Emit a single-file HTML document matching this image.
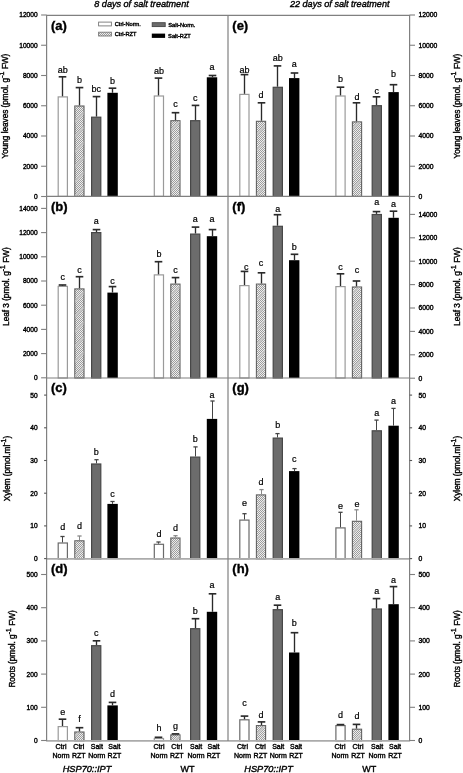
<!DOCTYPE html>
<html><head><meta charset="utf-8"><style>
html,body{margin:0;padding:0;background:#fff;}
body{width:463px;height:773px;overflow:hidden;}
svg{display:block;will-change:transform;font-family:"Liberation Sans",sans-serif;fill:#000;}
text{fill:#000;stroke:#000;stroke-width:0.38px;}
text.L{stroke-width:0.2px;}
</style></head><body>
<svg width="463" height="773" viewBox="0 0 463 773">
<defs><pattern id="chk" width="2" height="2" patternUnits="userSpaceOnUse"><rect width="2" height="2" fill="#eeeeee"/><rect width="1" height="1" fill="#9c9c9c"/><rect x="1" y="1" width="1" height="1" fill="#9c9c9c"/></pattern><pattern id="diag" width="10.6" height="10.6" patternUnits="userSpaceOnUse" patternTransform="rotate(-45)"><rect width="10.6" height="2.2" fill="#c4c4c4"/></pattern></defs>
<rect width="463" height="773" fill="#fff"/>
<text x="141.5" y="6.8" font-size="9.1" font-style="italic" text-anchor="middle">8 days of salt treatment</text>
<text x="339.7" y="6.8" font-size="9.1" font-style="italic" text-anchor="middle">22 days of salt treatment</text>
<rect x="58.20" y="96.90" width="9.20" height="99.50" fill="#fff" stroke="#9a9a9a" stroke-width="1.2"/>
<line x1="62.50" y1="76.80" x2="62.50" y2="96.30" stroke="#2a2a2a" stroke-width="1.35"/>
<line x1="58.70" y1="76.80" x2="66.30" y2="76.80" stroke="#2a2a2a" stroke-width="1.6500000000000001"/>
<text class="L" x="62.80" y="72.60" font-size="9" text-anchor="middle">ab</text>
<rect x="74.80" y="106.00" width="9.20" height="90.40" fill="url(#chk)" stroke="#606060" stroke-width="1.1"/>
<rect x="75.30" y="106.50" width="8.20" height="89.90" fill="url(#diag)"/>
<line x1="79.50" y1="87.60" x2="79.50" y2="105.40" stroke="#2a2a2a" stroke-width="1.35"/>
<line x1="75.70" y1="87.60" x2="83.30" y2="87.60" stroke="#2a2a2a" stroke-width="1.6500000000000001"/>
<text class="L" x="79.40" y="83.30" font-size="9" text-anchor="middle">b</text>
<rect x="91.60" y="117.20" width="9.20" height="79.20" fill="#6c6c6c" stroke="#474747" stroke-width="1.2"/>
<line x1="96.50" y1="96.60" x2="96.50" y2="116.60" stroke="#2a2a2a" stroke-width="1.35"/>
<line x1="92.70" y1="96.60" x2="100.30" y2="96.60" stroke="#2a2a2a" stroke-width="1.6500000000000001"/>
<text class="L" x="96.20" y="92.30" font-size="9" text-anchor="middle">bc</text>
<rect x="107.40" y="92.80" width="10.40" height="103.60" fill="#000"/>
<line x1="112.50" y1="88.20" x2="112.50" y2="92.80" stroke="#2a2a2a" stroke-width="1.35"/>
<line x1="108.70" y1="88.20" x2="116.30" y2="88.20" stroke="#2a2a2a" stroke-width="1.6500000000000001"/>
<text class="L" x="112.60" y="83.90" font-size="9" text-anchor="middle">b</text>
<rect x="154.30" y="96.00" width="9.20" height="100.40" fill="#fff" stroke="#9a9a9a" stroke-width="1.2"/>
<line x1="158.50" y1="78.10" x2="158.50" y2="95.40" stroke="#2a2a2a" stroke-width="1.35"/>
<line x1="154.70" y1="78.10" x2="162.30" y2="78.10" stroke="#2a2a2a" stroke-width="1.6500000000000001"/>
<text class="L" x="158.90" y="74.20" font-size="9" text-anchor="middle">ab</text>
<rect x="170.80" y="120.70" width="9.20" height="75.70" fill="url(#chk)" stroke="#606060" stroke-width="1.1"/>
<rect x="171.30" y="121.20" width="8.20" height="75.20" fill="url(#diag)"/>
<line x1="175.50" y1="112.70" x2="175.50" y2="120.10" stroke="#2a2a2a" stroke-width="1.35"/>
<line x1="171.70" y1="112.70" x2="179.30" y2="112.70" stroke="#2a2a2a" stroke-width="1.6500000000000001"/>
<text class="L" x="175.40" y="107.00" font-size="9" text-anchor="middle">c</text>
<rect x="190.60" y="120.70" width="9.20" height="75.70" fill="#6c6c6c" stroke="#474747" stroke-width="1.2"/>
<line x1="195.50" y1="105.40" x2="195.50" y2="120.10" stroke="#2a2a2a" stroke-width="1.35"/>
<line x1="191.70" y1="105.40" x2="199.30" y2="105.40" stroke="#2a2a2a" stroke-width="1.6500000000000001"/>
<text class="L" x="195.20" y="100.90" font-size="9" text-anchor="middle">c</text>
<rect x="206.80" y="77.30" width="10.40" height="119.10" fill="#000"/>
<line x1="212.50" y1="75.50" x2="212.50" y2="77.30" stroke="#2a2a2a" stroke-width="1.35"/>
<line x1="208.70" y1="75.50" x2="216.30" y2="75.50" stroke="#2a2a2a" stroke-width="1.6500000000000001"/>
<text class="L" x="212.00" y="70.40" font-size="9" text-anchor="middle">a</text>
<text x="50.90" y="29.50" font-size="13" font-weight="bold">(a)</text>
<rect x="58.20" y="286.40" width="9.20" height="91.60" fill="#fff" stroke="#9a9a9a" stroke-width="1.2"/>
<line x1="62.50" y1="285.00" x2="62.50" y2="285.80" stroke="#2a2a2a" stroke-width="1.35"/>
<line x1="58.70" y1="285.00" x2="66.30" y2="285.00" stroke="#2a2a2a" stroke-width="1.6500000000000001"/>
<text class="L" x="62.80" y="280.00" font-size="9" text-anchor="middle">c</text>
<rect x="74.80" y="288.90" width="9.20" height="89.10" fill="url(#chk)" stroke="#606060" stroke-width="1.1"/>
<rect x="75.30" y="289.40" width="8.20" height="88.60" fill="url(#diag)"/>
<line x1="79.50" y1="276.70" x2="79.50" y2="288.30" stroke="#2a2a2a" stroke-width="1.35"/>
<line x1="75.70" y1="276.70" x2="83.30" y2="276.70" stroke="#2a2a2a" stroke-width="1.6500000000000001"/>
<text class="L" x="79.40" y="272.80" font-size="9" text-anchor="middle">c</text>
<rect x="91.60" y="232.60" width="9.20" height="145.40" fill="#6c6c6c" stroke="#474747" stroke-width="1.2"/>
<line x1="96.50" y1="229.60" x2="96.50" y2="232.00" stroke="#2a2a2a" stroke-width="1.35"/>
<line x1="92.70" y1="229.60" x2="100.30" y2="229.60" stroke="#2a2a2a" stroke-width="1.6500000000000001"/>
<text class="L" x="96.20" y="224.20" font-size="9" text-anchor="middle">a</text>
<rect x="107.40" y="292.60" width="10.40" height="85.40" fill="#000"/>
<line x1="112.50" y1="286.60" x2="112.50" y2="292.60" stroke="#2a2a2a" stroke-width="1.35"/>
<line x1="108.70" y1="286.60" x2="116.30" y2="286.60" stroke="#2a2a2a" stroke-width="1.6500000000000001"/>
<text class="L" x="112.60" y="283.50" font-size="9" text-anchor="middle">c</text>
<rect x="154.30" y="274.90" width="9.20" height="103.10" fill="#fff" stroke="#9a9a9a" stroke-width="1.2"/>
<line x1="158.50" y1="261.70" x2="158.50" y2="274.30" stroke="#2a2a2a" stroke-width="1.35"/>
<line x1="154.70" y1="261.70" x2="162.30" y2="261.70" stroke="#2a2a2a" stroke-width="1.6500000000000001"/>
<text class="L" x="158.90" y="256.80" font-size="9" text-anchor="middle">b</text>
<rect x="170.80" y="284.10" width="9.20" height="93.90" fill="url(#chk)" stroke="#606060" stroke-width="1.1"/>
<rect x="171.30" y="284.60" width="8.20" height="93.40" fill="url(#diag)"/>
<line x1="175.50" y1="277.60" x2="175.50" y2="283.50" stroke="#2a2a2a" stroke-width="1.35"/>
<line x1="171.70" y1="277.60" x2="179.30" y2="277.60" stroke="#2a2a2a" stroke-width="1.6500000000000001"/>
<text class="L" x="175.40" y="273.20" font-size="9" text-anchor="middle">c</text>
<rect x="190.60" y="234.10" width="9.20" height="143.90" fill="#6c6c6c" stroke="#474747" stroke-width="1.2"/>
<line x1="195.50" y1="227.10" x2="195.50" y2="233.50" stroke="#2a2a2a" stroke-width="1.35"/>
<line x1="191.70" y1="227.10" x2="199.30" y2="227.10" stroke="#2a2a2a" stroke-width="1.6500000000000001"/>
<text class="L" x="195.20" y="221.90" font-size="9" text-anchor="middle">a</text>
<rect x="206.80" y="236.20" width="10.40" height="141.80" fill="#000"/>
<line x1="212.50" y1="229.60" x2="212.50" y2="236.20" stroke="#2a2a2a" stroke-width="1.35"/>
<line x1="208.70" y1="229.60" x2="216.30" y2="229.60" stroke="#2a2a2a" stroke-width="1.6500000000000001"/>
<text class="L" x="212.00" y="221.90" font-size="9" text-anchor="middle">a</text>
<text x="50.90" y="210.60" font-size="13" font-weight="bold">(b)</text>
<rect x="58.20" y="543.00" width="9.20" height="15.90" fill="#fff" stroke="#6a6a6a" stroke-width="1.2"/>
<line x1="62.50" y1="536.50" x2="62.50" y2="542.40" stroke="#444" stroke-width="1.0"/>
<line x1="60.40" y1="536.50" x2="64.60" y2="536.50" stroke="#444" stroke-width="1.3"/>
<text class="L" x="62.80" y="530.10" font-size="9" text-anchor="middle">d</text>
<rect x="74.80" y="540.80" width="9.20" height="18.10" fill="url(#chk)" stroke="#606060" stroke-width="1.1"/>
<rect x="75.30" y="541.30" width="8.20" height="17.60" fill="url(#diag)"/>
<line x1="79.50" y1="536.00" x2="79.50" y2="540.20" stroke="#888" stroke-width="1.0"/>
<line x1="77.40" y1="536.00" x2="81.60" y2="536.00" stroke="#888" stroke-width="1.3"/>
<text class="L" x="79.40" y="529.10" font-size="9" text-anchor="middle">d</text>
<rect x="91.60" y="464.00" width="9.20" height="94.90" fill="#6c6c6c" stroke="#474747" stroke-width="1.2"/>
<line x1="96.50" y1="459.70" x2="96.50" y2="463.40" stroke="#444" stroke-width="1.0"/>
<line x1="94.40" y1="459.70" x2="98.60" y2="459.70" stroke="#444" stroke-width="1.3"/>
<text class="L" x="96.20" y="454.90" font-size="9" text-anchor="middle">b</text>
<rect x="107.40" y="503.90" width="10.40" height="55.00" fill="#000"/>
<line x1="112.50" y1="501.50" x2="112.50" y2="503.90" stroke="#444" stroke-width="1.0"/>
<line x1="110.40" y1="501.50" x2="114.60" y2="501.50" stroke="#444" stroke-width="1.3"/>
<text class="L" x="112.60" y="496.50" font-size="9" text-anchor="middle">c</text>
<rect x="154.30" y="544.30" width="9.20" height="14.60" fill="#fff" stroke="#6a6a6a" stroke-width="1.2"/>
<line x1="158.50" y1="542.00" x2="158.50" y2="543.70" stroke="#444" stroke-width="1.0"/>
<line x1="156.40" y1="542.00" x2="160.60" y2="542.00" stroke="#444" stroke-width="1.3"/>
<text class="L" x="158.90" y="537.40" font-size="9" text-anchor="middle">d</text>
<rect x="170.80" y="538.00" width="9.20" height="20.90" fill="url(#chk)" stroke="#606060" stroke-width="1.1"/>
<rect x="171.30" y="538.50" width="8.20" height="20.40" fill="url(#diag)"/>
<line x1="175.50" y1="535.70" x2="175.50" y2="537.40" stroke="#888" stroke-width="1.0"/>
<line x1="173.40" y1="535.70" x2="177.60" y2="535.70" stroke="#888" stroke-width="1.3"/>
<text class="L" x="175.40" y="531.10" font-size="9" text-anchor="middle">d</text>
<rect x="190.60" y="457.10" width="9.20" height="101.80" fill="#6c6c6c" stroke="#474747" stroke-width="1.2"/>
<line x1="195.50" y1="446.90" x2="195.50" y2="456.50" stroke="#444" stroke-width="1.0"/>
<line x1="193.40" y1="446.90" x2="197.60" y2="446.90" stroke="#444" stroke-width="1.3"/>
<text class="L" x="195.20" y="441.80" font-size="9" text-anchor="middle">b</text>
<rect x="206.80" y="418.90" width="10.40" height="140.00" fill="#000"/>
<line x1="212.50" y1="401.00" x2="212.50" y2="418.90" stroke="#444" stroke-width="1.0"/>
<line x1="210.40" y1="401.00" x2="214.60" y2="401.00" stroke="#444" stroke-width="1.3"/>
<text class="L" x="212.00" y="397.50" font-size="9" text-anchor="middle">a</text>
<text x="50.90" y="392.20" font-size="13" font-weight="bold">(c)</text>
<rect x="58.20" y="726.60" width="9.20" height="14.30" fill="#fff" stroke="#9a9a9a" stroke-width="1.2"/>
<line x1="62.50" y1="719.20" x2="62.50" y2="726.00" stroke="#2a2a2a" stroke-width="1.35"/>
<line x1="58.70" y1="719.20" x2="66.30" y2="719.20" stroke="#2a2a2a" stroke-width="1.6500000000000001"/>
<text class="L" x="62.80" y="715.10" font-size="9" text-anchor="middle">e</text>
<rect x="74.80" y="732.00" width="9.20" height="8.90" fill="url(#chk)" stroke="#606060" stroke-width="1.1"/>
<rect x="75.30" y="732.50" width="8.20" height="8.40" fill="url(#diag)"/>
<line x1="79.50" y1="727.70" x2="79.50" y2="731.40" stroke="#2a2a2a" stroke-width="1.35"/>
<line x1="75.70" y1="727.70" x2="83.30" y2="727.70" stroke="#2a2a2a" stroke-width="1.6500000000000001"/>
<text class="L" x="79.40" y="721.50" font-size="9" text-anchor="middle">f</text>
<rect x="91.60" y="645.70" width="9.20" height="95.20" fill="#6c6c6c" stroke="#474747" stroke-width="1.2"/>
<line x1="96.50" y1="640.80" x2="96.50" y2="645.10" stroke="#2a2a2a" stroke-width="1.35"/>
<line x1="92.70" y1="640.80" x2="100.30" y2="640.80" stroke="#2a2a2a" stroke-width="1.6500000000000001"/>
<text class="L" x="96.20" y="636.00" font-size="9" text-anchor="middle">c</text>
<rect x="107.40" y="705.40" width="10.40" height="35.50" fill="#000"/>
<line x1="112.50" y1="702.40" x2="112.50" y2="705.40" stroke="#2a2a2a" stroke-width="1.35"/>
<line x1="108.70" y1="702.40" x2="116.30" y2="702.40" stroke="#2a2a2a" stroke-width="1.6500000000000001"/>
<text class="L" x="112.60" y="696.60" font-size="9" text-anchor="middle">d</text>
<rect x="154.30" y="738.50" width="9.20" height="2.40" fill="#fff" stroke="#9a9a9a" stroke-width="1.2"/>
<line x1="154.70" y1="737.30" x2="162.30" y2="737.30" stroke="#2a2a2a" stroke-width="1.6500000000000001"/>
<text class="L" x="158.90" y="731.30" font-size="9" text-anchor="middle">h</text>
<rect x="170.80" y="734.90" width="9.20" height="6.00" fill="url(#chk)" stroke="#606060" stroke-width="1.1"/>
<rect x="171.30" y="735.40" width="8.20" height="5.50" fill="url(#diag)"/>
<line x1="171.70" y1="733.90" x2="179.30" y2="733.90" stroke="#2a2a2a" stroke-width="1.6500000000000001"/>
<text class="L" x="175.40" y="729.30" font-size="9" text-anchor="middle">g</text>
<rect x="190.60" y="628.70" width="9.20" height="112.20" fill="#6c6c6c" stroke="#474747" stroke-width="1.2"/>
<line x1="195.50" y1="618.70" x2="195.50" y2="628.10" stroke="#2a2a2a" stroke-width="1.35"/>
<line x1="191.70" y1="618.70" x2="199.30" y2="618.70" stroke="#2a2a2a" stroke-width="1.6500000000000001"/>
<text class="L" x="195.20" y="613.70" font-size="9" text-anchor="middle">b</text>
<rect x="206.80" y="611.80" width="10.40" height="129.10" fill="#000"/>
<line x1="212.50" y1="593.80" x2="212.50" y2="611.80" stroke="#2a2a2a" stroke-width="1.35"/>
<line x1="208.70" y1="593.80" x2="216.30" y2="593.80" stroke="#2a2a2a" stroke-width="1.6500000000000001"/>
<text class="L" x="212.00" y="588.30" font-size="9" text-anchor="middle">a</text>
<text x="50.90" y="573.10" font-size="13" font-weight="bold">(d)</text>
<rect x="239.80" y="94.40" width="9.20" height="102.00" fill="#fff" stroke="#9a9a9a" stroke-width="1.2"/>
<line x1="244.50" y1="74.60" x2="244.50" y2="93.80" stroke="#2a2a2a" stroke-width="1.35"/>
<line x1="240.70" y1="74.60" x2="248.30" y2="74.60" stroke="#2a2a2a" stroke-width="1.6500000000000001"/>
<text class="L" x="244.40" y="73.00" font-size="9" text-anchor="middle">ab</text>
<rect x="256.40" y="121.30" width="9.20" height="75.10" fill="url(#chk)" stroke="#606060" stroke-width="1.1"/>
<rect x="256.90" y="121.80" width="8.20" height="74.60" fill="url(#diag)"/>
<line x1="261.50" y1="102.80" x2="261.50" y2="120.70" stroke="#2a2a2a" stroke-width="1.35"/>
<line x1="257.70" y1="102.80" x2="265.30" y2="102.80" stroke="#2a2a2a" stroke-width="1.6500000000000001"/>
<text class="L" x="261.00" y="97.90" font-size="9" text-anchor="middle">d</text>
<rect x="273.20" y="87.30" width="9.20" height="109.10" fill="#6c6c6c" stroke="#474747" stroke-width="1.2"/>
<line x1="277.50" y1="65.90" x2="277.50" y2="86.70" stroke="#2a2a2a" stroke-width="1.35"/>
<line x1="273.70" y1="65.90" x2="281.30" y2="65.90" stroke="#2a2a2a" stroke-width="1.6500000000000001"/>
<text class="L" x="277.80" y="61.00" font-size="9" text-anchor="middle">ab</text>
<rect x="289.00" y="78.10" width="10.40" height="118.30" fill="#000"/>
<line x1="294.50" y1="73.00" x2="294.50" y2="78.10" stroke="#2a2a2a" stroke-width="1.35"/>
<line x1="290.70" y1="73.00" x2="298.30" y2="73.00" stroke="#2a2a2a" stroke-width="1.6500000000000001"/>
<text class="L" x="294.20" y="66.60" font-size="9" text-anchor="middle">a</text>
<rect x="335.90" y="96.00" width="9.20" height="100.40" fill="#fff" stroke="#9a9a9a" stroke-width="1.2"/>
<line x1="340.50" y1="87.20" x2="340.50" y2="95.40" stroke="#2a2a2a" stroke-width="1.35"/>
<line x1="336.70" y1="87.20" x2="344.30" y2="87.20" stroke="#2a2a2a" stroke-width="1.6500000000000001"/>
<text class="L" x="340.50" y="81.80" font-size="9" text-anchor="middle">b</text>
<rect x="352.40" y="121.90" width="9.20" height="74.50" fill="url(#chk)" stroke="#606060" stroke-width="1.1"/>
<rect x="352.90" y="122.40" width="8.20" height="74.00" fill="url(#diag)"/>
<line x1="356.50" y1="102.80" x2="356.50" y2="121.30" stroke="#2a2a2a" stroke-width="1.35"/>
<line x1="352.70" y1="102.80" x2="360.30" y2="102.80" stroke="#2a2a2a" stroke-width="1.6500000000000001"/>
<text class="L" x="357.00" y="100.30" font-size="9" text-anchor="middle">d</text>
<rect x="372.20" y="105.70" width="9.20" height="90.70" fill="#6c6c6c" stroke="#474747" stroke-width="1.2"/>
<line x1="376.50" y1="96.80" x2="376.50" y2="105.10" stroke="#2a2a2a" stroke-width="1.35"/>
<line x1="372.70" y1="96.80" x2="380.30" y2="96.80" stroke="#2a2a2a" stroke-width="1.6500000000000001"/>
<text class="L" x="376.80" y="93.50" font-size="9" text-anchor="middle">c</text>
<rect x="388.40" y="92.10" width="10.40" height="104.30" fill="#000"/>
<line x1="393.50" y1="84.70" x2="393.50" y2="92.10" stroke="#2a2a2a" stroke-width="1.35"/>
<line x1="389.70" y1="84.70" x2="397.30" y2="84.70" stroke="#2a2a2a" stroke-width="1.6500000000000001"/>
<text class="L" x="393.60" y="76.90" font-size="9" text-anchor="middle">b</text>
<text x="232.30" y="29.50" font-size="13" font-weight="bold">(e)</text>
<rect x="239.80" y="285.60" width="9.20" height="92.40" fill="#fff" stroke="#9a9a9a" stroke-width="1.2"/>
<line x1="244.50" y1="271.40" x2="244.50" y2="285.00" stroke="#2a2a2a" stroke-width="1.35"/>
<line x1="240.70" y1="271.40" x2="248.30" y2="271.40" stroke="#2a2a2a" stroke-width="1.6500000000000001"/>
<text class="L" x="246.20" y="269.50" font-size="9" text-anchor="middle">c</text>
<rect x="256.40" y="284.10" width="9.20" height="93.90" fill="url(#chk)" stroke="#606060" stroke-width="1.1"/>
<rect x="256.90" y="284.60" width="8.20" height="93.40" fill="url(#diag)"/>
<line x1="261.50" y1="272.80" x2="261.50" y2="283.50" stroke="#2a2a2a" stroke-width="1.35"/>
<line x1="257.70" y1="272.80" x2="265.30" y2="272.80" stroke="#2a2a2a" stroke-width="1.6500000000000001"/>
<text class="L" x="261.00" y="265.60" font-size="9" text-anchor="middle">c</text>
<rect x="273.20" y="226.30" width="9.20" height="151.70" fill="#6c6c6c" stroke="#474747" stroke-width="1.2"/>
<line x1="277.50" y1="214.70" x2="277.50" y2="225.70" stroke="#2a2a2a" stroke-width="1.35"/>
<line x1="273.70" y1="214.70" x2="281.30" y2="214.70" stroke="#2a2a2a" stroke-width="1.6500000000000001"/>
<text class="L" x="277.80" y="212.10" font-size="9" text-anchor="middle">a</text>
<rect x="289.00" y="260.20" width="10.40" height="117.80" fill="#000"/>
<line x1="294.50" y1="254.30" x2="294.50" y2="260.20" stroke="#2a2a2a" stroke-width="1.35"/>
<line x1="290.70" y1="254.30" x2="298.30" y2="254.30" stroke="#2a2a2a" stroke-width="1.6500000000000001"/>
<text class="L" x="294.20" y="249.50" font-size="9" text-anchor="middle">b</text>
<rect x="335.90" y="286.60" width="9.20" height="91.40" fill="#fff" stroke="#9a9a9a" stroke-width="1.2"/>
<line x1="340.50" y1="273.80" x2="340.50" y2="286.00" stroke="#2a2a2a" stroke-width="1.35"/>
<line x1="336.70" y1="273.80" x2="344.30" y2="273.80" stroke="#2a2a2a" stroke-width="1.6500000000000001"/>
<text class="L" x="340.50" y="269.50" font-size="9" text-anchor="middle">c</text>
<rect x="352.40" y="287.00" width="9.20" height="91.00" fill="url(#chk)" stroke="#606060" stroke-width="1.1"/>
<rect x="352.90" y="287.50" width="8.20" height="90.50" fill="url(#diag)"/>
<line x1="356.50" y1="281.00" x2="356.50" y2="286.40" stroke="#2a2a2a" stroke-width="1.35"/>
<line x1="352.70" y1="281.00" x2="360.30" y2="281.00" stroke="#2a2a2a" stroke-width="1.6500000000000001"/>
<text class="L" x="357.00" y="273.40" font-size="9" text-anchor="middle">c</text>
<rect x="372.20" y="214.50" width="9.20" height="163.50" fill="#6c6c6c" stroke="#474747" stroke-width="1.2"/>
<line x1="376.50" y1="211.60" x2="376.50" y2="213.90" stroke="#2a2a2a" stroke-width="1.35"/>
<line x1="372.70" y1="211.60" x2="380.30" y2="211.60" stroke="#2a2a2a" stroke-width="1.6500000000000001"/>
<text class="L" x="376.80" y="205.30" font-size="9" text-anchor="middle">a</text>
<rect x="388.40" y="217.80" width="10.40" height="160.20" fill="#000"/>
<line x1="393.50" y1="211.20" x2="393.50" y2="217.80" stroke="#2a2a2a" stroke-width="1.35"/>
<line x1="389.70" y1="211.20" x2="397.30" y2="211.20" stroke="#2a2a2a" stroke-width="1.6500000000000001"/>
<text class="L" x="393.60" y="206.70" font-size="9" text-anchor="middle">a</text>
<text x="232.30" y="210.60" font-size="13" font-weight="bold">(f)</text>
<rect x="239.80" y="520.10" width="9.20" height="38.80" fill="#fff" stroke="#6a6a6a" stroke-width="1.2"/>
<line x1="244.50" y1="513.70" x2="244.50" y2="519.50" stroke="#444" stroke-width="1.0"/>
<line x1="242.40" y1="513.70" x2="246.60" y2="513.70" stroke="#444" stroke-width="1.3"/>
<text class="L" x="244.40" y="506.10" font-size="9" text-anchor="middle">e</text>
<rect x="256.40" y="494.90" width="9.20" height="64.00" fill="url(#chk)" stroke="#606060" stroke-width="1.1"/>
<rect x="256.90" y="495.40" width="8.20" height="63.50" fill="url(#diag)"/>
<line x1="261.50" y1="489.60" x2="261.50" y2="494.30" stroke="#888" stroke-width="1.0"/>
<line x1="259.40" y1="489.60" x2="263.60" y2="489.60" stroke="#888" stroke-width="1.3"/>
<text class="L" x="261.00" y="485.10" font-size="9" text-anchor="middle">d</text>
<rect x="273.20" y="438.10" width="9.20" height="120.80" fill="#6c6c6c" stroke="#474747" stroke-width="1.2"/>
<line x1="277.50" y1="433.60" x2="277.50" y2="437.50" stroke="#444" stroke-width="1.0"/>
<line x1="275.40" y1="433.60" x2="279.60" y2="433.60" stroke="#444" stroke-width="1.3"/>
<text class="L" x="277.80" y="427.80" font-size="9" text-anchor="middle">b</text>
<rect x="289.00" y="471.10" width="10.40" height="87.80" fill="#000"/>
<line x1="294.50" y1="468.60" x2="294.50" y2="471.10" stroke="#444" stroke-width="1.0"/>
<line x1="292.40" y1="468.60" x2="296.60" y2="468.60" stroke="#444" stroke-width="1.3"/>
<text class="L" x="294.20" y="462.40" font-size="9" text-anchor="middle">c</text>
<rect x="335.90" y="527.90" width="9.20" height="31.00" fill="#fff" stroke="#6a6a6a" stroke-width="1.2"/>
<line x1="340.50" y1="512.30" x2="340.50" y2="527.30" stroke="#444" stroke-width="1.0"/>
<line x1="338.40" y1="512.30" x2="342.60" y2="512.30" stroke="#444" stroke-width="1.3"/>
<text class="L" x="340.50" y="508.50" font-size="9" text-anchor="middle">e</text>
<rect x="352.40" y="521.30" width="9.20" height="37.60" fill="url(#chk)" stroke="#606060" stroke-width="1.1"/>
<rect x="352.90" y="521.80" width="8.20" height="37.10" fill="url(#diag)"/>
<line x1="356.50" y1="509.80" x2="356.50" y2="520.70" stroke="#888" stroke-width="1.0"/>
<line x1="354.40" y1="509.80" x2="358.60" y2="509.80" stroke="#888" stroke-width="1.3"/>
<text class="L" x="357.00" y="506.50" font-size="9" text-anchor="middle">e</text>
<rect x="372.20" y="430.80" width="9.20" height="128.10" fill="#6c6c6c" stroke="#474747" stroke-width="1.2"/>
<line x1="376.50" y1="420.10" x2="376.50" y2="430.20" stroke="#444" stroke-width="1.0"/>
<line x1="374.40" y1="420.10" x2="378.60" y2="420.10" stroke="#444" stroke-width="1.3"/>
<text class="L" x="376.80" y="416.30" font-size="9" text-anchor="middle">a</text>
<rect x="388.40" y="425.70" width="10.40" height="133.20" fill="#000"/>
<line x1="393.50" y1="408.40" x2="393.50" y2="425.70" stroke="#444" stroke-width="1.0"/>
<line x1="391.40" y1="408.40" x2="395.60" y2="408.40" stroke="#444" stroke-width="1.3"/>
<text class="L" x="393.60" y="404.20" font-size="9" text-anchor="middle">a</text>
<text x="232.30" y="392.20" font-size="13" font-weight="bold">(g)</text>
<rect x="239.80" y="719.80" width="9.20" height="21.10" fill="#fff" stroke="#6a6a6a" stroke-width="1.2"/>
<line x1="244.50" y1="716.10" x2="244.50" y2="719.20" stroke="#2a2a2a" stroke-width="1.35"/>
<line x1="240.70" y1="716.10" x2="248.30" y2="716.10" stroke="#2a2a2a" stroke-width="1.6500000000000001"/>
<text class="L" x="244.40" y="706.00" font-size="9" text-anchor="middle">c</text>
<rect x="256.40" y="725.60" width="9.20" height="15.30" fill="url(#chk)" stroke="#606060" stroke-width="1.1"/>
<rect x="256.90" y="726.10" width="8.20" height="14.80" fill="url(#diag)"/>
<line x1="261.50" y1="721.90" x2="261.50" y2="725.00" stroke="#2a2a2a" stroke-width="1.35"/>
<line x1="257.70" y1="721.90" x2="265.30" y2="721.90" stroke="#2a2a2a" stroke-width="1.6500000000000001"/>
<text class="L" x="261.00" y="717.60" font-size="9" text-anchor="middle">d</text>
<rect x="273.20" y="609.70" width="9.20" height="131.20" fill="#6c6c6c" stroke="#474747" stroke-width="1.2"/>
<line x1="277.50" y1="605.20" x2="277.50" y2="609.10" stroke="#2a2a2a" stroke-width="1.35"/>
<line x1="273.70" y1="605.20" x2="281.30" y2="605.20" stroke="#2a2a2a" stroke-width="1.6500000000000001"/>
<text class="L" x="277.80" y="599.80" font-size="9" text-anchor="middle">a</text>
<rect x="289.00" y="652.50" width="10.40" height="88.40" fill="#000"/>
<line x1="294.50" y1="632.70" x2="294.50" y2="652.50" stroke="#2a2a2a" stroke-width="1.35"/>
<line x1="290.70" y1="632.70" x2="298.30" y2="632.70" stroke="#2a2a2a" stroke-width="1.6500000000000001"/>
<text class="L" x="294.20" y="625.90" font-size="9" text-anchor="middle">b</text>
<rect x="335.90" y="725.60" width="9.20" height="15.30" fill="#fff" stroke="#6a6a6a" stroke-width="1.2"/>
<line x1="336.70" y1="724.60" x2="344.30" y2="724.60" stroke="#2a2a2a" stroke-width="1.6500000000000001"/>
<text class="L" x="340.50" y="718.00" font-size="9" text-anchor="middle">d</text>
<rect x="352.40" y="729.20" width="9.20" height="11.70" fill="url(#chk)" stroke="#606060" stroke-width="1.1"/>
<rect x="352.90" y="729.70" width="8.20" height="11.20" fill="url(#diag)"/>
<line x1="356.50" y1="724.40" x2="356.50" y2="728.60" stroke="#2a2a2a" stroke-width="1.35"/>
<line x1="352.70" y1="724.40" x2="360.30" y2="724.40" stroke="#2a2a2a" stroke-width="1.6500000000000001"/>
<text class="L" x="357.00" y="718.60" font-size="9" text-anchor="middle">d</text>
<rect x="372.20" y="609.00" width="9.20" height="131.90" fill="#6c6c6c" stroke="#474747" stroke-width="1.2"/>
<line x1="376.50" y1="598.60" x2="376.50" y2="608.40" stroke="#2a2a2a" stroke-width="1.35"/>
<line x1="372.70" y1="598.60" x2="380.30" y2="598.60" stroke="#2a2a2a" stroke-width="1.6500000000000001"/>
<text class="L" x="376.80" y="593.90" font-size="9" text-anchor="middle">a</text>
<rect x="388.40" y="604.20" width="10.40" height="136.70" fill="#000"/>
<line x1="393.50" y1="586.60" x2="393.50" y2="604.20" stroke="#2a2a2a" stroke-width="1.35"/>
<line x1="389.70" y1="586.60" x2="397.30" y2="586.60" stroke="#2a2a2a" stroke-width="1.6500000000000001"/>
<text class="L" x="393.60" y="583.30" font-size="9" text-anchor="middle">a</text>
<text x="232.30" y="573.10" font-size="13" font-weight="bold">(h)</text>
<line x1="46.10" y1="15.3" x2="410.10" y2="15.3" stroke="#808080" stroke-width="1.2"/>
<line x1="46.10" y1="196.4" x2="410.10" y2="196.4" stroke="#808080" stroke-width="1.2"/>
<line x1="46.10" y1="378.0" x2="410.10" y2="378.0" stroke="#808080" stroke-width="1.2"/>
<line x1="46.10" y1="558.9" x2="410.10" y2="558.9" stroke="#ababab" stroke-width="1.9"/>
<line x1="46.10" y1="740.9" x2="410.10" y2="740.9" stroke="#ababab" stroke-width="1.9"/>
<line x1="46.6" y1="15.3" x2="46.6" y2="740.9" stroke="#808080" stroke-width="1.2"/>
<line x1="228.0" y1="15.3" x2="228.0" y2="740.9" stroke="#808080" stroke-width="1.2"/>
<line x1="409.6" y1="15.3" x2="409.6" y2="740.9" stroke="#808080" stroke-width="1.2"/>
<line x1="41.1" y1="196.50" x2="46.6" y2="196.50" stroke="#808080" stroke-width="1.1"/>
<text x="37.6" y="198.90" font-size="6.6" text-anchor="end">0</text>
<line x1="41.1" y1="166.25" x2="46.6" y2="166.25" stroke="#808080" stroke-width="1.1"/>
<text x="37.6" y="168.65" font-size="6.6" text-anchor="end">2000</text>
<line x1="41.1" y1="136.00" x2="46.6" y2="136.00" stroke="#808080" stroke-width="1.1"/>
<text x="37.6" y="138.40" font-size="6.6" text-anchor="end">4000</text>
<line x1="41.1" y1="105.75" x2="46.6" y2="105.75" stroke="#808080" stroke-width="1.1"/>
<text x="37.6" y="108.15" font-size="6.6" text-anchor="end">6000</text>
<line x1="41.1" y1="75.50" x2="46.6" y2="75.50" stroke="#808080" stroke-width="1.1"/>
<text x="37.6" y="77.90" font-size="6.6" text-anchor="end">8000</text>
<line x1="41.1" y1="45.25" x2="46.6" y2="45.25" stroke="#808080" stroke-width="1.1"/>
<text x="37.6" y="47.65" font-size="6.6" text-anchor="end">10000</text>
<line x1="41.1" y1="15.00" x2="46.6" y2="15.00" stroke="#808080" stroke-width="1.1"/>
<text x="37.6" y="17.40" font-size="6.6" text-anchor="end">12000</text>
<line x1="409.6" y1="196.50" x2="415.0" y2="196.50" stroke="#808080" stroke-width="1.1"/>
<text x="418.5" y="198.90" font-size="6.8">0</text>
<line x1="409.6" y1="166.25" x2="415.0" y2="166.25" stroke="#808080" stroke-width="1.1"/>
<text x="418.5" y="168.65" font-size="6.8">2000</text>
<line x1="409.6" y1="136.00" x2="415.0" y2="136.00" stroke="#808080" stroke-width="1.1"/>
<text x="418.5" y="138.40" font-size="6.8">4000</text>
<line x1="409.6" y1="105.75" x2="415.0" y2="105.75" stroke="#808080" stroke-width="1.1"/>
<text x="418.5" y="108.15" font-size="6.8">6000</text>
<line x1="409.6" y1="75.50" x2="415.0" y2="75.50" stroke="#808080" stroke-width="1.1"/>
<text x="418.5" y="77.90" font-size="6.8">8000</text>
<line x1="409.6" y1="45.25" x2="415.0" y2="45.25" stroke="#808080" stroke-width="1.1"/>
<text x="418.5" y="47.65" font-size="6.8">10000</text>
<line x1="409.6" y1="15.00" x2="415.0" y2="15.00" stroke="#808080" stroke-width="1.1"/>
<text x="418.5" y="17.40" font-size="6.8">12000</text>
<line x1="41.1" y1="377.80" x2="46.6" y2="377.80" stroke="#808080" stroke-width="1.1"/>
<text x="37.6" y="380.20" font-size="6.6" text-anchor="end">0</text>
<line x1="41.1" y1="353.60" x2="46.6" y2="353.60" stroke="#808080" stroke-width="1.1"/>
<text x="37.6" y="356.00" font-size="6.6" text-anchor="end">2000</text>
<line x1="41.1" y1="329.40" x2="46.6" y2="329.40" stroke="#808080" stroke-width="1.1"/>
<text x="37.6" y="331.80" font-size="6.6" text-anchor="end">4000</text>
<line x1="41.1" y1="305.20" x2="46.6" y2="305.20" stroke="#808080" stroke-width="1.1"/>
<text x="37.6" y="307.60" font-size="6.6" text-anchor="end">6000</text>
<line x1="41.1" y1="281.00" x2="46.6" y2="281.00" stroke="#808080" stroke-width="1.1"/>
<text x="37.6" y="283.40" font-size="6.6" text-anchor="end">8000</text>
<line x1="41.1" y1="256.80" x2="46.6" y2="256.80" stroke="#808080" stroke-width="1.1"/>
<text x="37.6" y="259.20" font-size="6.6" text-anchor="end">10000</text>
<line x1="41.1" y1="232.60" x2="46.6" y2="232.60" stroke="#808080" stroke-width="1.1"/>
<text x="37.6" y="235.00" font-size="6.6" text-anchor="end">12000</text>
<line x1="41.1" y1="208.40" x2="46.6" y2="208.40" stroke="#808080" stroke-width="1.1"/>
<text x="37.6" y="210.80" font-size="6.6" text-anchor="end">14000</text>
<line x1="409.6" y1="378.20" x2="415.0" y2="378.20" stroke="#808080" stroke-width="1.1"/>
<text x="418.5" y="380.60" font-size="6.8">0</text>
<line x1="409.6" y1="354.80" x2="415.0" y2="354.80" stroke="#808080" stroke-width="1.1"/>
<text x="418.5" y="357.20" font-size="6.8">2000</text>
<line x1="409.6" y1="331.40" x2="415.0" y2="331.40" stroke="#808080" stroke-width="1.1"/>
<text x="418.5" y="333.80" font-size="6.8">4000</text>
<line x1="409.6" y1="308.00" x2="415.0" y2="308.00" stroke="#808080" stroke-width="1.1"/>
<text x="418.5" y="310.40" font-size="6.8">6000</text>
<line x1="409.6" y1="284.60" x2="415.0" y2="284.60" stroke="#808080" stroke-width="1.1"/>
<text x="418.5" y="287.00" font-size="6.8">8000</text>
<line x1="409.6" y1="261.20" x2="415.0" y2="261.20" stroke="#808080" stroke-width="1.1"/>
<text x="418.5" y="263.60" font-size="6.8">10000</text>
<line x1="409.6" y1="237.80" x2="415.0" y2="237.80" stroke="#808080" stroke-width="1.1"/>
<text x="418.5" y="240.20" font-size="6.8">12000</text>
<line x1="409.6" y1="214.40" x2="415.0" y2="214.40" stroke="#808080" stroke-width="1.1"/>
<text x="418.5" y="216.80" font-size="6.8">14000</text>
<line x1="44.1" y1="558.60" x2="46.6" y2="558.60" stroke="#555" stroke-width="1.1"/>
<text x="37.6" y="561.00" font-size="6.6" text-anchor="end">0</text>
<line x1="44.1" y1="525.90" x2="46.6" y2="525.90" stroke="#555" stroke-width="1.1"/>
<text x="37.6" y="528.30" font-size="6.6" text-anchor="end">10</text>
<line x1="44.1" y1="493.20" x2="46.6" y2="493.20" stroke="#555" stroke-width="1.1"/>
<text x="37.6" y="495.60" font-size="6.6" text-anchor="end">20</text>
<line x1="44.1" y1="460.50" x2="46.6" y2="460.50" stroke="#555" stroke-width="1.1"/>
<text x="37.6" y="462.90" font-size="6.6" text-anchor="end">30</text>
<line x1="44.1" y1="427.80" x2="46.6" y2="427.80" stroke="#555" stroke-width="1.1"/>
<text x="37.6" y="430.20" font-size="6.6" text-anchor="end">40</text>
<line x1="44.1" y1="395.10" x2="46.6" y2="395.10" stroke="#555" stroke-width="1.1"/>
<text x="37.6" y="397.50" font-size="6.6" text-anchor="end">50</text>
<line x1="409.6" y1="558.60" x2="412.1" y2="558.60" stroke="#555" stroke-width="1.1"/>
<text x="418.5" y="561.00" font-size="6.8">0</text>
<line x1="409.6" y1="525.90" x2="412.1" y2="525.90" stroke="#555" stroke-width="1.1"/>
<text x="418.5" y="528.30" font-size="6.8">10</text>
<line x1="409.6" y1="493.20" x2="412.1" y2="493.20" stroke="#555" stroke-width="1.1"/>
<text x="418.5" y="495.60" font-size="6.8">20</text>
<line x1="409.6" y1="460.50" x2="412.1" y2="460.50" stroke="#555" stroke-width="1.1"/>
<text x="418.5" y="462.90" font-size="6.8">30</text>
<line x1="409.6" y1="427.80" x2="412.1" y2="427.80" stroke="#555" stroke-width="1.1"/>
<text x="418.5" y="430.20" font-size="6.8">40</text>
<line x1="409.6" y1="395.10" x2="412.1" y2="395.10" stroke="#555" stroke-width="1.1"/>
<text x="418.5" y="397.50" font-size="6.8">50</text>
<line x1="41.1" y1="740.50" x2="46.6" y2="740.50" stroke="#808080" stroke-width="1.1"/>
<text x="37.6" y="742.90" font-size="6.6" text-anchor="end">0</text>
<line x1="41.1" y1="707.30" x2="46.6" y2="707.30" stroke="#808080" stroke-width="1.1"/>
<text x="37.6" y="709.70" font-size="6.6" text-anchor="end">100</text>
<line x1="41.1" y1="674.10" x2="46.6" y2="674.10" stroke="#808080" stroke-width="1.1"/>
<text x="37.6" y="676.50" font-size="6.6" text-anchor="end">200</text>
<line x1="41.1" y1="640.90" x2="46.6" y2="640.90" stroke="#808080" stroke-width="1.1"/>
<text x="37.6" y="643.30" font-size="6.6" text-anchor="end">300</text>
<line x1="41.1" y1="607.70" x2="46.6" y2="607.70" stroke="#808080" stroke-width="1.1"/>
<text x="37.6" y="610.10" font-size="6.6" text-anchor="end">400</text>
<line x1="41.1" y1="574.50" x2="46.6" y2="574.50" stroke="#808080" stroke-width="1.1"/>
<text x="37.6" y="576.90" font-size="6.6" text-anchor="end">500</text>
<line x1="409.6" y1="740.50" x2="415.0" y2="740.50" stroke="#808080" stroke-width="1.1"/>
<text x="418.5" y="742.90" font-size="6.8">0</text>
<line x1="409.6" y1="707.30" x2="415.0" y2="707.30" stroke="#808080" stroke-width="1.1"/>
<text x="418.5" y="709.70" font-size="6.8">100</text>
<line x1="409.6" y1="674.10" x2="415.0" y2="674.10" stroke="#808080" stroke-width="1.1"/>
<text x="418.5" y="676.50" font-size="6.8">200</text>
<line x1="409.6" y1="640.90" x2="415.0" y2="640.90" stroke="#808080" stroke-width="1.1"/>
<text x="418.5" y="643.30" font-size="6.8">300</text>
<line x1="409.6" y1="607.70" x2="415.0" y2="607.70" stroke="#808080" stroke-width="1.1"/>
<text x="418.5" y="610.10" font-size="6.8">400</text>
<line x1="409.6" y1="574.50" x2="415.0" y2="574.50" stroke="#808080" stroke-width="1.1"/>
<text x="418.5" y="576.90" font-size="6.8">500</text>
<text transform="translate(8.10,106.20) rotate(-90)" font-size="8.2" text-anchor="middle">Young leaves (pmol. g<tspan font-size="7" dy="-4">-1</tspan><tspan dy="4"> FW)</tspan></text>
<text transform="translate(459.80,106.20) rotate(-90)" font-size="8.2" text-anchor="middle">Young leaves (pmol. g<tspan font-size="7" dy="-4">-1</tspan><tspan dy="4"> FW)</tspan></text>
<text transform="translate(8.70,286.60) rotate(-90)" font-size="8.2" text-anchor="middle">Leaf 3 (pmol. g<tspan font-size="7" dy="-4">-1</tspan><tspan dy="4"> FW)</tspan></text>
<text transform="translate(459.80,286.60) rotate(-90)" font-size="8.2" text-anchor="middle">Leaf 3 (pmol. g<tspan font-size="7" dy="-4">-1</tspan><tspan dy="4"> FW)</tspan></text>
<text transform="translate(10.30,468.50) rotate(-90)" font-size="8.2" text-anchor="middle">Xylem (pmol.ml<tspan font-size="7" dy="-4">-1</tspan><tspan dy="4">)</tspan></text>
<text transform="translate(459.80,468.50) rotate(-90)" font-size="8.2" text-anchor="middle">Xylem (pmol.ml<tspan font-size="7" dy="-4">-1</tspan><tspan dy="4">)</tspan></text>
<text transform="translate(15.30,649.00) rotate(-90)" font-size="8.2" text-anchor="middle">Roots (pmol. g<tspan font-size="7" dy="-4">-1</tspan><tspan dy="4"> FW)</tspan></text>
<text transform="translate(459.80,649.00) rotate(-90)" font-size="8.2" text-anchor="middle">Roots (pmol. g<tspan font-size="7" dy="-4">-1</tspan><tspan dy="4"> FW)</tspan></text>
<text x="61.00" y="749.0" font-size="7" text-anchor="middle">Ctrl</text>
<text x="61.00" y="757.7" font-size="7" text-anchor="middle">Norm</text>
<text x="78.80" y="749.0" font-size="7" text-anchor="middle">Ctrl</text>
<text x="78.80" y="757.7" font-size="7" text-anchor="middle">RZT</text>
<text x="96.80" y="749.0" font-size="7" text-anchor="middle">Salt</text>
<text x="96.80" y="757.7" font-size="7" text-anchor="middle">Norm</text>
<text x="114.40" y="749.0" font-size="7" text-anchor="middle">Salt</text>
<text x="114.40" y="757.7" font-size="7" text-anchor="middle">RZT</text>
<text x="159.00" y="749.0" font-size="7" text-anchor="middle">Ctrl</text>
<text x="159.00" y="757.7" font-size="7" text-anchor="middle">Norm</text>
<text x="176.80" y="749.0" font-size="7" text-anchor="middle">Ctrl</text>
<text x="176.80" y="757.7" font-size="7" text-anchor="middle">RZT</text>
<text x="196.10" y="749.0" font-size="7" text-anchor="middle">Salt</text>
<text x="196.10" y="757.7" font-size="7" text-anchor="middle">Norm</text>
<text x="213.50" y="749.0" font-size="7" text-anchor="middle">Salt</text>
<text x="213.50" y="757.7" font-size="7" text-anchor="middle">RZT</text>
<text x="87.00" y="771.7" font-size="9.2" font-style="italic" text-anchor="middle">HSP70::IPT</text>
<text x="187.60" y="771.7" font-size="9" text-anchor="middle">WT</text>
<text x="242.50" y="749.0" font-size="7" text-anchor="middle">Ctrl</text>
<text x="242.50" y="757.7" font-size="7" text-anchor="middle">Norm</text>
<text x="260.40" y="749.0" font-size="7" text-anchor="middle">Ctrl</text>
<text x="260.40" y="757.7" font-size="7" text-anchor="middle">RZT</text>
<text x="278.20" y="749.0" font-size="7" text-anchor="middle">Salt</text>
<text x="278.20" y="757.7" font-size="7" text-anchor="middle">Norm</text>
<text x="296.00" y="749.0" font-size="7" text-anchor="middle">Salt</text>
<text x="296.00" y="757.7" font-size="7" text-anchor="middle">RZT</text>
<text x="340.00" y="749.0" font-size="7" text-anchor="middle">Ctrl</text>
<text x="340.00" y="757.7" font-size="7" text-anchor="middle">Norm</text>
<text x="358.00" y="749.0" font-size="7" text-anchor="middle">Ctrl</text>
<text x="358.00" y="757.7" font-size="7" text-anchor="middle">RZT</text>
<text x="377.10" y="749.0" font-size="7" text-anchor="middle">Salt</text>
<text x="377.10" y="757.7" font-size="7" text-anchor="middle">Norm</text>
<text x="395.00" y="749.0" font-size="7" text-anchor="middle">Salt</text>
<text x="395.00" y="757.7" font-size="7" text-anchor="middle">RZT</text>
<text x="268.60" y="771.7" font-size="9.2" font-style="italic" text-anchor="middle">HSP70::IPT</text>
<text x="369.20" y="771.7" font-size="9" text-anchor="middle">WT</text>
<rect x="98.6" y="22.1" width="12.8" height="3.8" fill="#fff" stroke="#777" stroke-width="0.9"/>
<rect x="98.6" y="32.2" width="12.8" height="3.8" fill="url(#chk)" stroke="#777" stroke-width="0.9"/>
<rect x="152.2" y="22.7" width="13" height="3.9" fill="#6c6c6c" stroke="#444" stroke-width="0.9"/>
<rect x="151.8" y="33.6" width="13.3" height="4.3" fill="#000"/>
<text x="114.7" y="25.9" font-size="5.7">Ctrl-Norm.</text>
<text x="114.7" y="35.6" font-size="5.7">Ctrl-RZT</text>
<text x="168.2" y="26.7" font-size="5.7">Salt-Norm.</text>
<text x="168.1" y="37.6" font-size="5.7">Salt-RZT</text>
</svg>
</body></html>
